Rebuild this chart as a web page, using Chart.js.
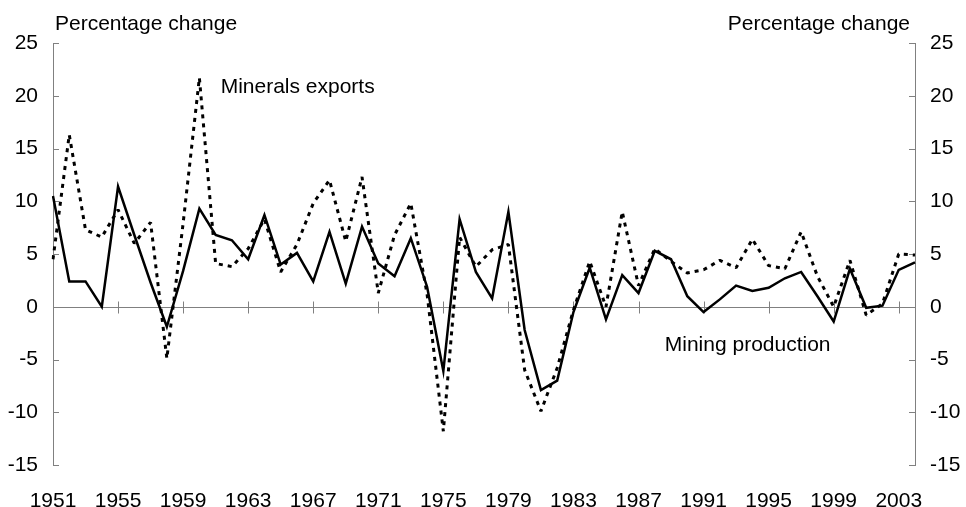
<!DOCTYPE html>
<html>
<head>
<meta charset="utf-8">
<script src="https://cdn.jsdelivr.net/npm/chart.js@4.4.1/dist/chart.umd.min.js"></script>
<style>
html,body{margin:0;padding:0;background:#fff;}
#wrap{width:966px;height:507px;}
</style>
</head>
<body>
<div id="wrap"><canvas id="c" width="966" height="507"></canvas></div>
<script>
const years = [1951,1952,1953,1954,1955,1956,1957,1958,1959,1960,1961,1962,1963,1964,1965,1966,1967,1968,1969,1970,1971,1972,1973,1974,1975,1976,1977,1978,1979,1980,1981,1982,1983,1984,1985,1986,1987,1988,1989,1990,1991,1992,1993,1994,1995,1996,1997,1998,1999,2000,2001,2002,2003,2004];
const miningProduction = [10.5,2.4,2.4,0.0,11.4,6.8,2.3,-1.9,3.4,9.3,6.8,6.3,4.5,8.7,4.0,5.1,2.4,7.1,2.2,7.6,4.1,2.9,6.5,1.9,-6.1,8.3,3.3,0.8,9.0,-2.2,-7.9,-7.0,-0.5,3.7,-1.2,3.0,1.3,5.3,4.5,1.0,-0.5,0.7,2.0,1.5,1.8,2.7,3.3,1.0,-1.4,3.6,-0.1,0.1,3.5,4.2];
const mineralsExports = [4.5,16.3,7.3,6.6,9.2,6.0,8.0,-4.9,7.9,21.7,4.1,3.8,5.5,8.3,3.3,5.9,9.8,12.0,6.2,12.3,1.3,6.8,9.8,1.2,-11.8,6.6,3.8,5.4,5.9,-6.0,-9.9,-5.8,-0.3,4.3,0.0,9.0,2.0,5.5,4.3,3.2,3.5,4.4,3.7,6.4,3.9,3.6,7.1,2.9,0.0,4.4,-0.8,0.3,5.0,4.9];
const labelEvery = 4;
const yMin = -15, yMax = 25, yStep = 5;
const axisTitle = "Percentage change";
const seriesLabels = ["Mining production", "Minerals exports"];

const FONT = '"Liberation Sans", Arial, sans-serif';
const FS = 21;
const AXIS = '#808080';

const overlay = {
  id: 'overlay',
  beforeDatasetsDraw(chart) {
    const ctx = chart.ctx, a = chart.chartArea;
    const x = chart.scales.x, y = chart.scales.y;
    const y0 = Math.round(y.getPixelForValue(0)) + 0.5;
    ctx.save();
    ctx.strokeStyle = AXIS; ctx.lineWidth = 1;
    ctx.beginPath(); ctx.moveTo(a.left, y0); ctx.lineTo(a.right, y0); ctx.stroke();
    years.forEach((yr, i) => {
      if ((yr - years[0]) % labelEvery !== 0) return;
      const px = Math.round(x.getPixelForValue(i)) + 0.5;
      ctx.beginPath(); ctx.moveTo(px, y0 - 6); ctx.lineTo(px, y0 + 6); ctx.stroke();
    });
    for (let v = yMin; v <= yMax; v += yStep) {
      const py = Math.round(y.getPixelForValue(v)) + 0.5;
      ctx.beginPath(); ctx.moveTo(a.left, py); ctx.lineTo(a.left + 6, py); ctx.stroke();
      ctx.beginPath(); ctx.moveTo(a.right - 6, py); ctx.lineTo(a.right, py); ctx.stroke();
    }
    ctx.restore();
  },
  afterDraw(chart) {
    const ctx = chart.ctx, a = chart.chartArea;
    const x = chart.scales.x, y = chart.scales.y;
    ctx.save();
    ctx.fillStyle = '#000';
    ctx.font = FS + 'px ' + FONT;
    ctx.textBaseline = 'middle';
    ctx.textAlign = 'left';
    ctx.fillText(axisTitle, a.left + 2, 24);
    ctx.textAlign = 'right';
    ctx.fillText(axisTitle, a.right - 5, 24);
    ctx.textAlign = 'left';
    ctx.fillText(seriesLabels[1], x.getPixelForValue(years.indexOf(1961)) + 5, y.getPixelForValue(20.8));
    ctx.fillText(seriesLabels[0], x.getPixelForValue(years.indexOf(1988)) + 10, y.getPixelForValue(-3.6));
    ctx.restore();
  }
};

const yAxisBase = (pos, w) => ({
  position: pos,
  min: yMin, max: yMax,
  ticks: { stepSize: yStep, padding: 15, color: '#000', font: { family: FONT, size: FS } },
  grid: { drawOnChartArea: false, drawTicks: false },
  border: { display: true, color: AXIS, width: 1 },
  afterFit: s => { s.width = w; }
});

new Chart(document.getElementById('c'), {
  type: 'line',
  data: {
    labels: years,
    datasets: [
      { label: seriesLabels[1], data: mineralsExports, borderColor: '#000', borderWidth: 3, borderDash: [4, 5], borderJoinStyle: 'bevel', pointRadius: 0, tension: 0, fill: false, yAxisID: 'y' },
      { label: seriesLabels[0], data: miningProduction, borderColor: '#000', borderWidth: 2.5, pointRadius: 0, tension: 0, fill: false, yAxisID: 'y' }
    ]
  },
  options: {
    responsive: false,
    animation: false,
    devicePixelRatio: 1,
    layout: { padding: { top: 43, left: 0, right: 0, bottom: 0 } },
    plugins: { legend: { display: false }, tooltip: { enabled: false }, title: { display: false } },
    scales: {
      x: {
        type: 'category', offset: false,
        grid: { display: false, drawTicks: false }, border: { display: false },
        ticks: {
          autoSkip: false, maxRotation: 0, minRotation: 0, padding: 24, color: '#000',
          font: { family: FONT, size: FS },
          callback: function(v, i) { const yr = years[i]; return (yr - years[0]) % labelEvery === 0 ? String(yr) : null; }
        },
        afterFit: s => { s.height = 42; }
      },
      y: yAxisBase('left', 53),
      y2: yAxisBase('right', 51)
    }
  },
  plugins: [overlay]
});
</script>
</body>
</html>
